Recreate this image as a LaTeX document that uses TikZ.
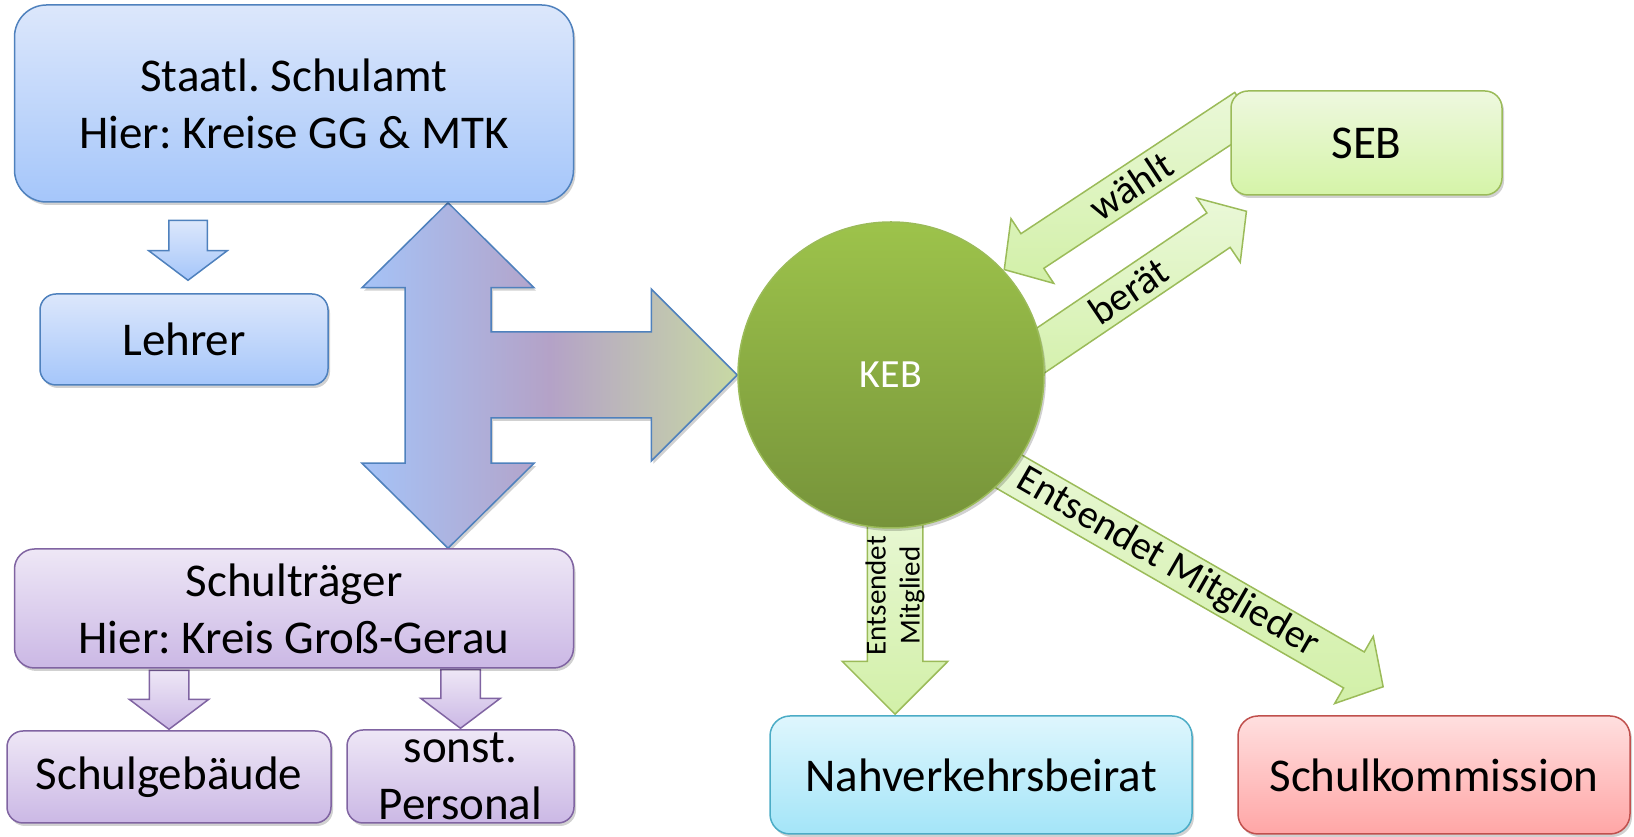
\documentclass[tikz,border=0pt]{standalone}
\usepackage{fontspec}
\setmainfont{Carlito}
\frenchspacing
\usetikzlibrary{arrows,positioning,calc,shapes.arrows,shadows,backgrounds}
\tikzset{every shadow/.style={fill=black,opacity=0.18,shadow xshift=2pt,shadow yshift=-3pt}}
\usepackage{xcolor}
\definecolor{bBord}{HTML}{4F81BD}
\definecolor{bTop}{HTML}{DCE7FB}
\definecolor{bBot}{HTML}{A5C6FA}
\definecolor{pBord}{HTML}{8064A2}
\definecolor{pTop}{HTML}{EEE7F6}
\definecolor{pBot}{HTML}{CBB8E5}
\definecolor{gBord}{HTML}{9BBB59}
\definecolor{gTop}{HTML}{EEF8DF}
\definecolor{gBot}{HTML}{D5F4A8}
\definecolor{aTop}{HTML}{EAF8D8}
\definecolor{aBot}{HTML}{D2F0A8}
\definecolor{kTop}{HTML}{9DC34B}
\definecolor{kBot}{HTML}{76933A}
\definecolor{cBord}{HTML}{4BACC6}
\definecolor{cTop}{HTML}{DEF6FD}
\definecolor{cBot}{HTML}{A4E5F8}
\definecolor{rBord}{HTML}{C0504D}
\definecolor{rTop}{HTML}{FFDFDF}
\definecolor{rBot}{HTML}{FFA6A6}
\definecolor{hLeft}{HTML}{A5C3F7}
\definecolor{hMid}{HTML}{B4A2C7}
\definecolor{hRight}{HTML}{C8D9A4}
\tikzset{
  box/.style={rectangle,line width=1.5pt,align=center,inner sep=0pt,
    font=\fontsize{47}{57}\selectfont,drop shadow},
  bluebox/.style={box,draw=bBord,top color=bTop,bottom color=bBot},
  purplebox/.style={box,draw=pBord,top color=pTop,bottom color=pBot},
  greenbox/.style={box,draw=gBord,top color=gTop,bottom color=gBot},
  cyanbox/.style={box,draw=cBord,top color=cTop,bottom color=cBot},
  redbox/.style={box,draw=rBord,top color=rTop,bottom color=rBot},
  blk/.style={single arrow,line width=1.5pt,inner xsep=0pt,anchor=tip},
  bluearrow/.style={blk,draw=bBord,top color=bTop,bottom color=bBot},
  purplearrow/.style={blk,draw=pBord,top color=pTop,bottom color=pBot},
  greenarrow/.style={blk,draw=gBord,top color=aTop,bottom color=aBot},
  bigarrow/.style={draw=bBord,line width=1.5pt,left color=hLeft,
    right color=hRight,middle color=hMid,drop shadow},
  lbl/.style={font=\fontsize{40}{48}\selectfont,inner sep=0pt},
}

\begin{document}
\begin{tikzpicture}[x=1pt,y=1pt]
\useasboundingbox (0,0) rectangle (1634,837);
% \draw[help lines,step=100] (0,0) grid (1634,837);
\node (sa) [bluebox,minimum width=559,minimum height=197,rounded corners=32] at (294,733.5) {Staatl. Schulamt\\Hier: Kreise GG \& MTK};
\node (le) [bluebox,minimum width=288,minimum height=91,rounded corners=16] at (184,497.5) {Lehrer};
\node (st) [purplebox,minimum width=559,minimum height=119,rounded corners=20] at (294,228.5) {Schulträger\\Hier: Kreis Groß-Gerau};
\node (sg) [purplebox,minimum width=324,minimum height=92,rounded corners=16] at (169,60) {Schulgebäude};
\node (sp) [purplebox,minimum width=227,minimum height=93,rounded corners=16] at (460.5,60.5) {sonst.\\Personal};
%
\node (keb) [circle,minimum size=306,inner sep=0pt,top color=kTop,bottom color=kBot,draw=gBord,line width=1.5pt,text=white,font=\fontsize{40}{48}\selectfont,drop shadow] at (891,462) {KEB};
\node (seb) [greenbox,minimum width=271,minimum height=104,rounded corners=17] at (1366.5,694) {SEB};
\node (nvb) [cyanbox,minimum width=422,minimum height=118,rounded corners=20] at (981,62) {Nahverkehrsbeirat};
\node (sk) [redbox,minimum width=392,minimum height=118,rounded corners=20] at (1434,62) {Schulkommission};
%
\begin{scope}[on background layer]
\coordinate (hub) at (448,462);
\draw[bigarrow] (hub |- sa.south) -- ++(86,-85) -- ++(-43,0) |- ($(keb.west)+(-86,43)$) -- ++(0,43) -- (keb.west) -- ++(-86,-86) -- ++(0,43) -| ($(hub |- st.north)+(43,85)$) -- ++(43,0) -- (hub |- st.north) -- ++(-86,85) -- ++(43,0) |- ($(hub |- sa.south)+(-86,-85)$) -- cycle;
%
\path ($(sa.south -| le.north)+(4,-20)$) -- ($(le.north)+(4,12)$) node[pos=1,bluearrow,rotate=-90,minimum height=60,inner ysep=18.5,single arrow head extend=20,single arrow tip angle=106] {};
\path (st.south -| sg.north) -- (sg.north) node[pos=1,purplearrow,rotate=-90,minimum height=59,inner ysep=19,single arrow head extend=20,single arrow tip angle=106] {};
\path (st.south -| sp.north) -- (sp.north) node[pos=1,purplearrow,rotate=-90,minimum height=59,inner ysep=19,single arrow head extend=20,single arrow tip angle=106] {};
%
\path (keb.43) -- ($(seb.west)+(14,32)$) node[pos=0,greenarrow,sloped,shape border rotate=180,minimum height=290,inner ysep=20,single arrow head extend=18,single arrow tip angle=98] {} node[pos=0.53,sloped,lbl] {wählt};
\path ($(keb)+(109,-3)$) -- ($(seb.south west)+(17,-15)$) node[pos=1,greenarrow,sloped,minimum height=300,inner ysep=20,single arrow head extend=18,single arrow tip angle=98] {} node[pos=0.52,sloped,lbl] {berät};
\path ($(keb.south |- nvb.north)+(4,0)$) -- ($(keb.south)+(4,31)$) node[pos=0,greenarrow,sloped,shape border rotate=180,minimum height=219,inner ysep=27,single arrow head extend=25,single arrow tip angle=90] {} node[pos=0.55,sloped,lbl,font=\fontsize{29}{34}\selectfont,align=center] {Entsendet\\Mitglied};
\path ($(keb)+(77,-73)$) -- ($(sk.north)+(-50,28)$) node[pos=1,greenarrow,sloped,minimum height=480,inner ysep=20,single arrow head extend=18,single arrow tip angle=98] {} node[pos=0.48,sloped,lbl] {Entsendet Mitglieder};
\end{scope}
\end{tikzpicture}
\end{document}
